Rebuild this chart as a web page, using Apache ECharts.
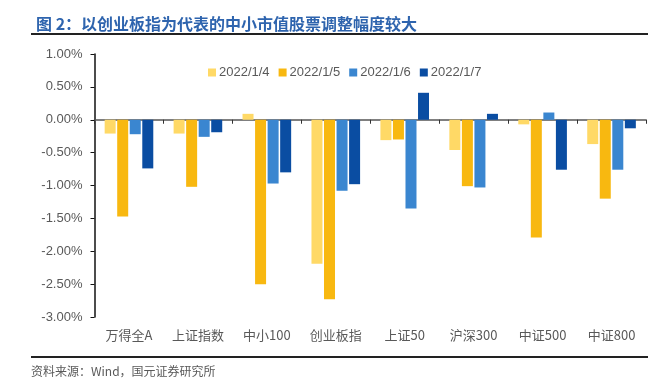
<!DOCTYPE html>
<html><head><meta charset="utf-8">
<script src="https://cdn.jsdelivr.net/npm/echarts@6/dist/echarts.min.js"></script>
<style>html,body{margin:0;padding:0;background:#fff}#c{width:665px;height:381px}</style>
</head><body><div id="c"></div>
<script>
const categories = ['万得全A','上证指数','中小100','创业板指','上证50','沪深300','中证500','中证800'];
const seriesNames = ['2022/1/4','2022/1/5','2022/1/6','2022/1/7'];
const d0104 = [-0.21,-0.21,0.09,-2.19,-0.31,-0.46,-0.07,-0.37];
const d0105 = [-1.47,-1.02,-2.50,-2.73,-0.30,-1.01,-1.79,-1.20];
const d0106 = [-0.22,-0.26,-0.97,-1.08,-1.35,-1.03,0.11,-0.76];
const d0107 = [-0.74,-0.19,-0.80,-0.98,0.41,0.09,-0.76,-0.13];
const yTicks = [-3,-2.5,-2,-1.5,-1,-0.5,0,0.5,1];
const colors = ['#FFD966','#F8B810','#3A86D0','#0A4DA2'];
const allData = [d0104,d0105,d0106,d0107];

const chart = echarts.init(document.getElementById('c'), null, {renderer:'canvas'});
const txt = '#595959';
chart.setOption({
  animation:false,
  backgroundColor:'#fff',
  color: colors,
  title:{
    text:'图 2：以创业板指为代表的中小市值股票调整幅度较大',
    left:31, top:11,
    textStyle:{fontFamily:'"Noto Sans CJK SC"',fontSize:16,fontWeight:'bold',color:'#2E64AE'}
  },
  legend:{
    data:seriesNames, left:203, top:61,
    itemWidth:8,itemHeight:8,itemGap:9,icon:'rect',
    textStyle:{fontFamily:'"Liberation Sans", Arial',fontSize:13,color:txt,padding:[0,0,0,-2]}
  },
  grid:{left:94.5,right:19,top:54,bottom:64,containLabel:false},
  xAxis:[{
    type:'category',data:categories,position:'bottom',
    axisLine:{show:false,onZero:false},axisTick:{show:false},
    axisLabel:{margin:12,fontFamily:'"Noto Sans CJK SC","Liberation Sans"',fontSize:13,color:txt}
  },{
    type:'category',data:categories,position:'top',
    axisLine:{show:true,onZero:true,lineStyle:{color:'#555',width:1.5}},
    axisTick:{show:true,inside:true,length:4,alignWithLabel:false,lineStyle:{color:'#333'}},
    axisLabel:{show:false}
  }],
  yAxis:{
    type:'value',min:-3,max:1,interval:0.5,
    axisLine:{show:true,lineStyle:{color:'#111',width:1.5}},
    axisTick:{show:true,length:4,lineStyle:{color:'#111'}},
    splitLine:{show:false},
    axisLabel:{margin:12,fontFamily:'"Liberation Sans", Arial',fontSize:13,color:txt,
      formatter:v=>v.toFixed(2)+'%'}
  },
  series: seriesNames.map((n,i)=>({
    name:n,type:'bar',xAxisIndex:0,data:allData[i],
    barWidth:11,barGap:'14%',
    itemStyle:{color:colors[i]}
  })),
  graphic:[
    {type:'line',shape:{x1:31,y1:34,x2:648,y2:34},style:{stroke:'#222',lineWidth:2}},
    {type:'line',shape:{x1:31,y1:357,x2:648,y2:357},style:{stroke:'#222',lineWidth:2}},
    {type:'text',left:31,top:365,style:{text:'资料来源：Wind，国元证券研究所',fontFamily:'"Noto Sans CJK SC"',fontSize:12,fill:txt}}
  ]
});
</script></body></html>
